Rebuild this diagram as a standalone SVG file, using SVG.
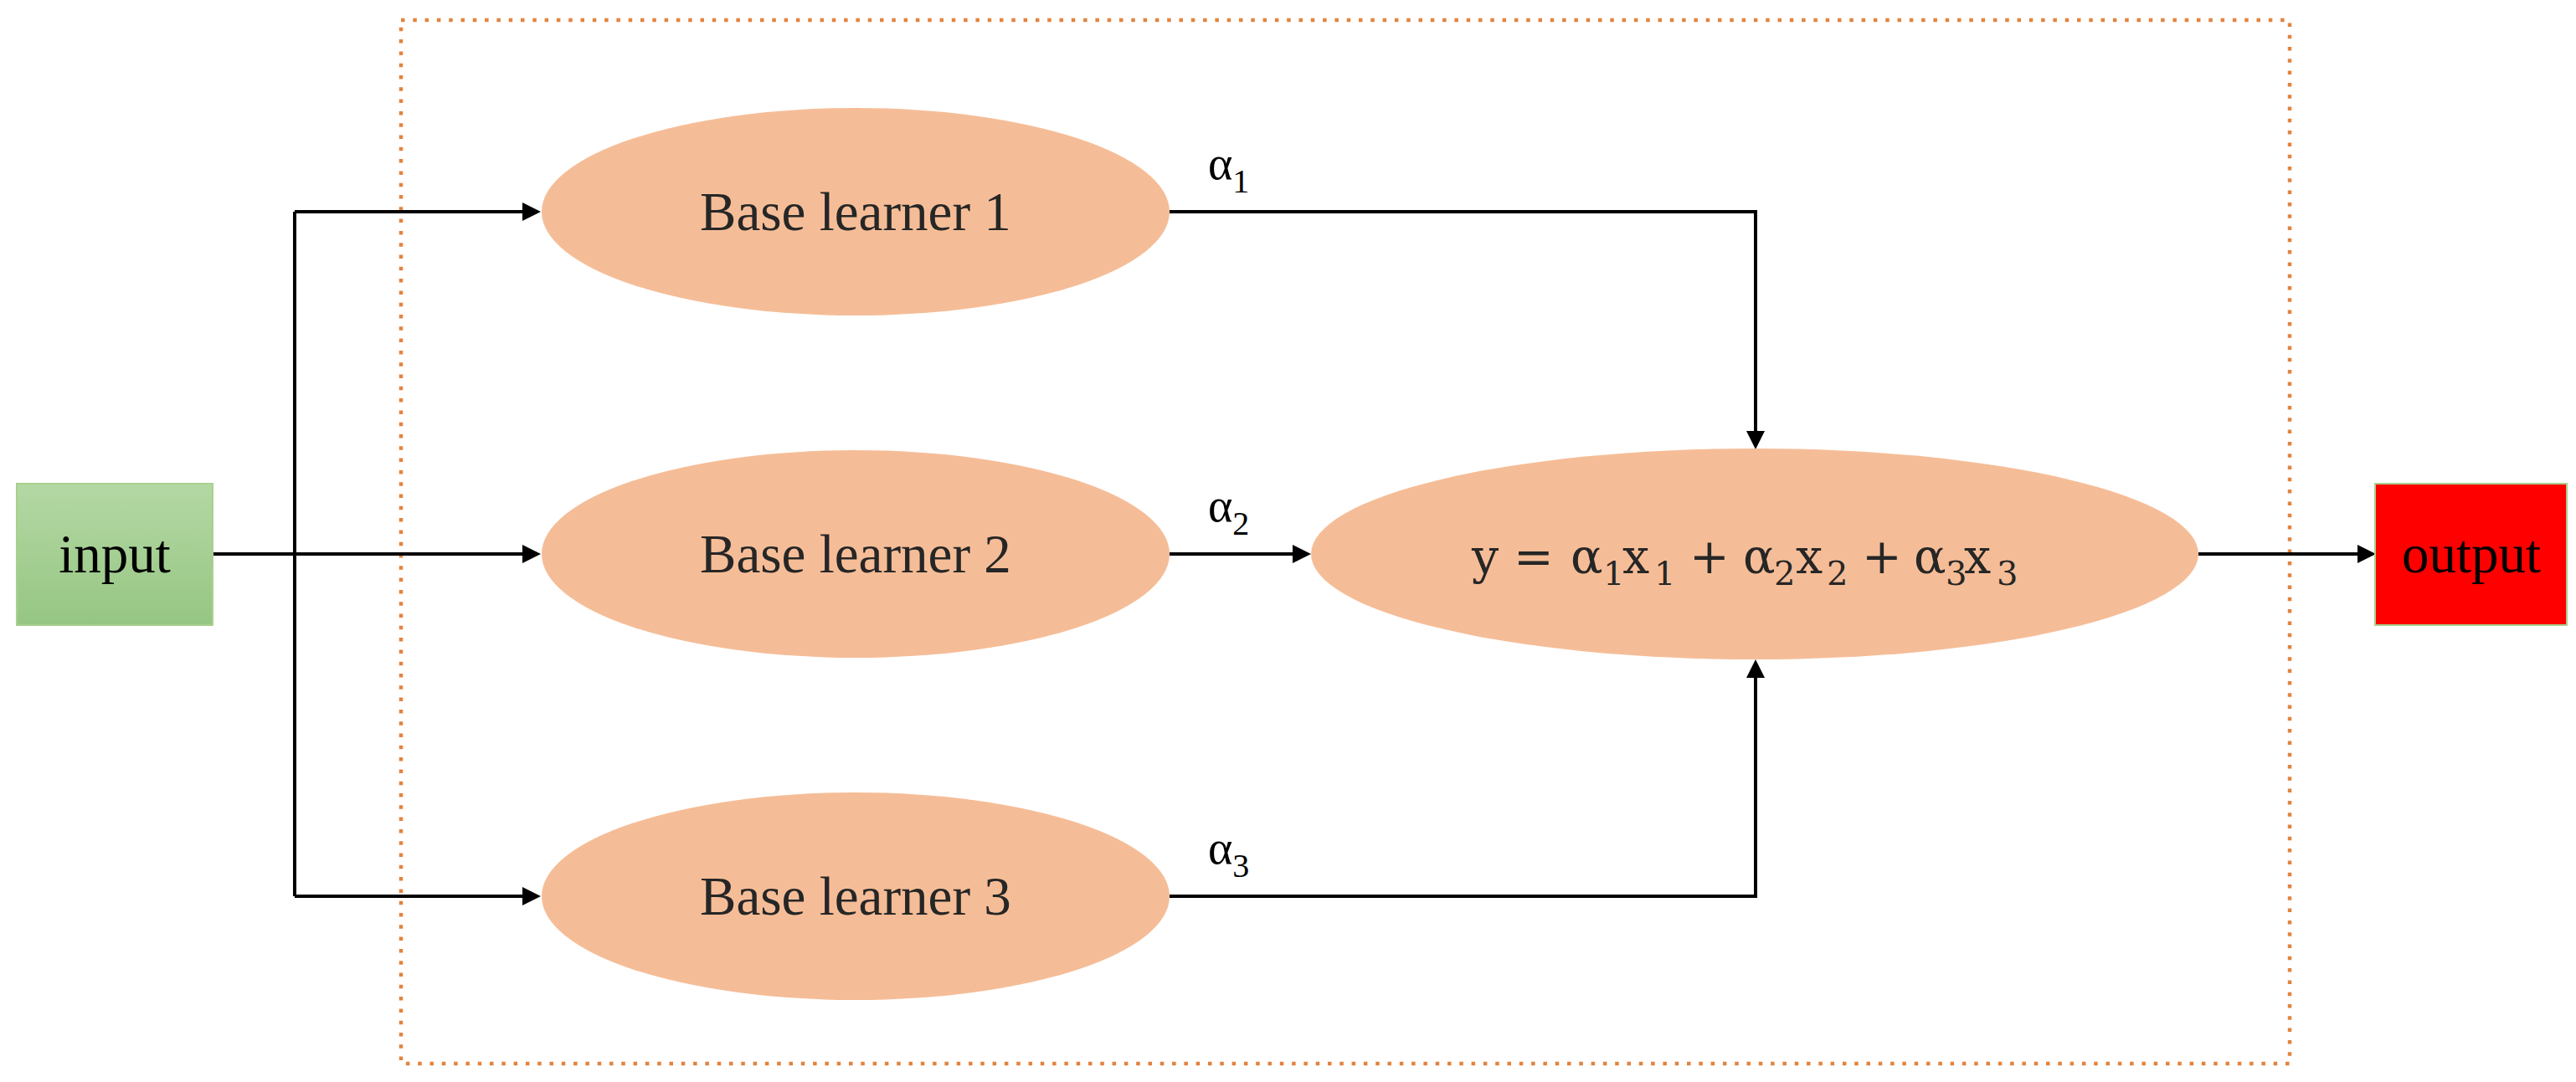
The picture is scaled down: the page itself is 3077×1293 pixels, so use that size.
<svg xmlns="http://www.w3.org/2000/svg" width="3077" height="1293" viewBox="0 0 3077 1293">
<style>
.lbl{font-family:"Liberation Serif","Times New Roman",serif;font-size:65px;fill:#262626;text-anchor:middle}
.box{font-family:"Liberation Serif","Times New Roman",serif;font-size:65px;fill:#000;text-anchor:middle}
.eq{font-family:"DejaVu Serif","Liberation Serif",serif;font-size:57px;fill:#262626}
.eqs{font-size:40px}
.al{font-family:"Liberation Serif","Times New Roman",serif;font-size:56px;fill:#000}
.als{font-size:40px}
.ell{fill:#F5BD97}
.con{fill:none;stroke:#000;stroke-width:4;marker-end:url(#ah)}
.conp{fill:none;stroke:#000;stroke-width:4}
</style>
<defs>
<marker id="ah" markerUnits="userSpaceOnUse" markerWidth="22" markerHeight="22" viewBox="0 0 20 20" refX="10" refY="10" orient="auto">
<path d="M0,0 L20,10 L0,20 z" fill="#000"/>
</marker>
<linearGradient id="gin" x1="0" y1="0" x2="0" y2="1">
<stop offset="0" stop-color="#B4D8A4"/>
<stop offset="1" stop-color="#96C683"/>
</linearGradient>
</defs>
<rect width="3077" height="1293" fill="#fff"/>
<g id="frame">
<rect x="479" y="24" width="2256" height="1247" fill="none" stroke="#E2843F" stroke-width="4.5" stroke-dasharray="4.5 9.8"/>
</g>
<g id="connectors">
<path class="con" d="M254,662 H635"/>
<path class="conp" d="M352,253 V1071"/>
<path class="con" d="M352,253 H635"/>
<path class="con" d="M352,1071 H635"/>
<path class="con" d="M1397,253 H2097 V526"/>
<path class="con" d="M1397,662 H1555"/>
<path class="con" d="M1397,1071 H2097 V799"/>
<path class="con" d="M2626,662 H2827"/>
</g>
<g id="alpha1"><text class="al" x="1443" y="214">α<tspan class="als" dy="16">1</tspan></text></g>
<g id="alpha2"><text class="al" x="1443" y="623">α<tspan class="als" dy="16">2</tspan></text></g>
<g id="alpha3"><text class="al" x="1443" y="1032">α<tspan class="als" dy="16">3</tspan></text></g>
<g id="input">
<rect x="20" y="578" width="234" height="169" fill="url(#gin)" stroke="#A9D08E" stroke-width="2"/>
<text class="box" x="137" y="684">input</text>
</g>
<g id="learner1">
<ellipse class="ell" cx="1022" cy="253" rx="375" ry="124"/>
<text class="lbl" x="1022" y="275">Base learner 1</text>
</g>
<g id="learner2">
<ellipse class="ell" cx="1022" cy="662" rx="375" ry="124"/>
<text class="lbl" x="1022" y="684">Base learner 2</text>
</g>
<g id="learner3">
<ellipse class="ell" cx="1022" cy="1071" rx="375" ry="124"/>
<text class="lbl" x="1022" y="1093">Base learner 3</text>
</g>
<g id="combiner">
<ellipse class="ell" cx="2096" cy="662" rx="530" ry="126"/>
<text class="eq" y="685"><tspan x="1758">y</tspan><tspan x="1808">=</tspan><tspan x="1876">α</tspan><tspan class="eqs" x="1915" dy="14">1</tspan><tspan x="1938" dy="-14">x</tspan><tspan class="eqs" x="1976" dy="14">1</tspan><tspan x="2018" dy="-14">+</tspan><tspan x="2082">α</tspan><tspan class="eqs" x="2119" dy="14">2</tspan><tspan x="2145" dy="-14">x</tspan><tspan class="eqs" x="2182" dy="14">2</tspan><tspan x="2224" dy="-14">+</tspan><tspan x="2286">α</tspan><tspan class="eqs" x="2324" dy="14">3</tspan><tspan x="2346" dy="-14">x</tspan><tspan class="eqs" x="2385" dy="14">3</tspan></text>
</g>
<g id="output">
<rect x="2837" y="578" width="229" height="169" fill="#FF0000" stroke="#A9D08E" stroke-width="2"/>
<text class="box" x="2952" y="684">output</text>
</g>
</svg>
